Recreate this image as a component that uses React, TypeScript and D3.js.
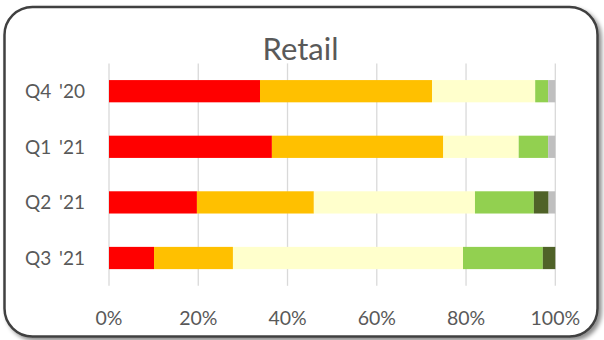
import React from "react";
import * as d3 from "d3";

const categories = ["Q4 '20", "Q1 '21", "Q2 '21", "Q3 '21"];
const seriesKeys = ["red", "orange", "yellow", "green", "darkGreen", "gray"];
const seriesColors = ["#FF0000", "#FFC000", "#FFFFCC", "#92D050", "#4F6228", "#BFBFBF"];
const redValues = [33.8, 36.5, 19.7, 10.1];
const orangeValues = [38.5, 38.4, 26.2, 17.7];
const yellowValues = [23.1, 16.9, 36.1, 51.6];
const greenValues = [2.9, 6.6, 13.2, 17.9];
const darkGreenValues = [0, 0, 3.3, 2.8];
const grayValues = [1.6, 1.6, 1.5, 0];
const tickValues = [0, 0.2, 0.4, 0.6, 0.8, 1];
const title = "Retail";

const W = 604;
const H = 340;
const FONT = "Lato, 'Open Sans', sans-serif";

export default function App() {
  const seriesValues = [redValues, orangeValues, yellowValues, greenValues, darkGreenValues, grayValues];
  const rows = categories.map((c, i) => {
    const r: any = { cat: c };
    seriesKeys.forEach((k, j) => (r[k] = seriesValues[j][i]));
    return r;
  });
  const stacked = d3.stack().keys(seriesKeys).offset(d3.stackOffsetExpand)(rows);

  const x = d3.scaleLinear().domain([0, 1]).range([109, 555.3]);
  const y = d3
    .scaleBand()
    .domain(categories)
    .range([63.4, 285.8])
    .paddingInner(0.6)
    .paddingOuter(0.3);
  const plotTop = 63.4;
  const plotBottom = 285.8;
  const color = d3.scaleOrdinal<string, string>().domain(seriesKeys).range(seriesColors);
  const fmt = d3.format(".0%");

  return (
    <svg
      width={W}
      height={H}
      style={{ position: "absolute", left: 0, top: 0, background: "#fff" }}
    >
      <defs>
        <filter id="shadow" x="-5%" y="-5%" width="115%" height="115%">
          <feDropShadow dx="3" dy="3" stdDeviation="2" floodColor="#000" floodOpacity="0.45" />
        </filter>
      </defs>
      <rect
        x={4.5}
        y={7}
        width={593}
        height={329.5}
        rx={28}
        ry={28}
        fill="#fff"
        stroke="#404040"
        strokeWidth={2.5}
        filter="url(#shadow)"
      />
      <text
        x={300.5}
        y={60}
        textAnchor="middle"
        fontFamily={FONT}
        fontSize={31}
        fill="#595959"
      >
        {title}
      </text>
      {tickValues.map((t) => (
        <line
          key={"g" + t}
          x1={x(t)}
          x2={x(t)}
          y1={plotTop}
          y2={plotBottom}
          stroke="#D9D9D9"
          strokeWidth={1.3}
        />
      ))}
      {stacked.map((s) => (
        <g key={s.key} fill={color(s.key)}>
          {s.map((d, i) => (
            <rect
              key={i}
              x={x(d[0])}
              width={Math.max(0, x(d[1]) - x(d[0]))}
              y={y(categories[i])}
              height={y.bandwidth()}
            />
          ))}
        </g>
      ))}
      {categories.map((c) => (
        <text
          key={c}
          x={85}
          y={(y(c) as number) + y.bandwidth() / 2}
          dy="0.36em"
          textAnchor="end"
          fontFamily={FONT}
          fontSize={19}
          wordSpacing={3}
          fill="#595959"
        >
          {c}
        </text>
      ))}
      {tickValues.map((t) => (
        <text
          key={"t" + t}
          x={x(t)}
          y={325}
          textAnchor="middle"
          fontFamily={FONT}
          fontSize={19.5}
          fill="#595959"
        >
          {fmt(t)}
        </text>
      ))}
    </svg>
  );
}
